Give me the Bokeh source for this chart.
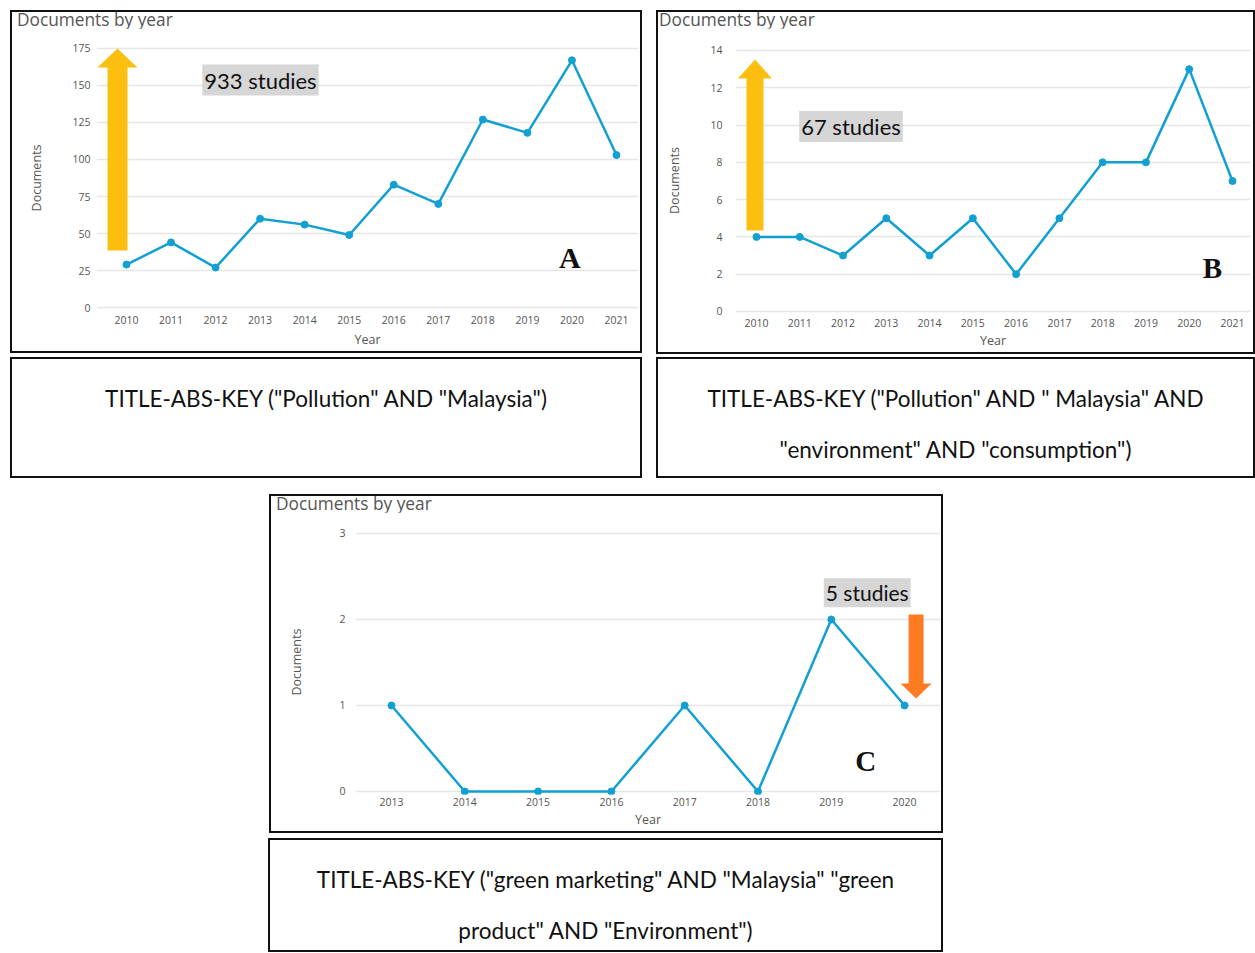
from bokeh.plotting import figure
from bokeh.models import FixedTicker, Label, Range1d, Div, Spacer
from bokeh.layouts import column, row
from bokeh.embed import file_html
from bokeh.resources import INLINE

# ---------------- data ----------------
years_a = [2010, 2011, 2012, 2013, 2014, 2015, 2016, 2017, 2018, 2019, 2020, 2021]
docs_a = [29, 44, 27, 60, 56, 49, 83, 70, 127, 118, 167, 103]
yticks_a = [0, 25, 50, 75, 100, 125, 150, 175]

years_b = [2010, 2011, 2012, 2013, 2014, 2015, 2016, 2017, 2018, 2019, 2020, 2021]
docs_b = [4, 4, 3, 5, 3, 5, 2, 5, 8, 8, 13, 7]
yticks_b = [0, 2, 4, 6, 8, 10, 12, 14]

years_c = [2013, 2014, 2015, 2016, 2017, 2018, 2019, 2020]
docs_c = [1, 0, 0, 0, 1, 0, 2, 1]
yticks_c = [0, 1, 2, 3]

chart_title = "Documents by year"
studies_a = "933 studies"
studies_b = "67 studies"
studies_c = "5 studies"

caption_a = ['TITLE-ABS-KEY ("Pollution" AND "Malaysia")']
caption_b = ['TITLE-ABS-KEY ("Pollution" AND " Malaysia" AND', '"environment" AND "consumption")']
caption_c = ['TITLE-ABS-KEY ("green marketing" AND "Malaysia" "green', 'product" AND "Environment")']

BLUE = "#12a0d3"
FONT = "Open Sans"
CAP_FONT = "Lato"
BORDER = "2px solid #111111"


def arrow_poly(xc, hs, hh, y0, yn, yt):
    xs = [xc - hs, xc + hs, xc + hs, xc + hh, xc, xc - hh, xc - hs]
    ys = [y0, y0, yn, yn, yt, yn, yn]
    return xs, ys


def make_chart(years, docs, yticks, xr, yr, w, h, borders,
               ylab_standoff, ylabel_standoff, xlab_standoff, xlabel_standoff):
    p = figure(width=w, height=h, x_range=Range1d(*xr), y_range=Range1d(*yr),
               output_backend="svg", toolbar_location=None,
               min_border_left=borders[0], min_border_right=borders[1],
               min_border_top=borders[2], min_border_bottom=borders[3])
    p.outline_line_color = None
    for ax in (p.xaxis[0], p.yaxis[0]):
        ax.axis_line_color = None
        ax.major_tick_line_color = None
        ax.minor_tick_line_color = None
        ax.major_tick_in = 0
        ax.major_tick_out = 0
        ax.major_label_text_font = FONT
        ax.major_label_text_font_size = "10.5px"
        ax.major_label_text_color = "#555555"
        ax.axis_label_text_font = FONT
        ax.axis_label_text_font_size = "12.5px"
        ax.axis_label_text_font_style = "normal"
        ax.axis_label_text_color = "#555555"
    p.xaxis.ticker = FixedTicker(ticks=years)
    p.yaxis.ticker = FixedTicker(ticks=yticks)
    p.xaxis.axis_label = "Year"
    p.yaxis.axis_label = "Documents"
    p.xaxis.major_label_standoff = xlab_standoff
    p.xaxis.axis_label_standoff = xlabel_standoff
    p.yaxis.major_label_standoff = ylab_standoff
    p.yaxis.axis_label_standoff = ylabel_standoff
    p.xgrid.grid_line_color = None
    p.ygrid.grid_line_color = "#e6e6e6"
    p.ygrid.grid_line_width = 1.5
    p.line(years, docs, line_color=BLUE, line_width=2.5)
    p.scatter(years, docs, size=7, color=BLUE)
    return p


def framed(p, w, pad_left):
    title = Div(text=chart_title, width=w, height=16, margin=0,
                styles={"font-family": FONT, "font-size": "17.3px", "color": "#555555",
                        "line-height": "16px", "padding-left": "%dpx" % pad_left,
                        "white-space": "nowrap"})
    return column(title, p, spacing=0, styles={"border": BORDER})


def add_label(p, x, y, text, size, font, style="normal", bg=None):
    lab = Label(x=x, y=y, text=text, text_align="center", text_baseline="middle",
                text_font=font, text_font_size=size, text_font_style=style,
                text_color="#111111")
    if bg:
        lab.background_fill_color = bg
        lab.padding = 2
    p.add_layout(lab)


# ---------------- panel A ----------------
pa = make_chart(years_a, docs_a, yticks_a, (2009.327, 2021.494), (-2.7, 177.7),
                628, 323, (84, 2, 16, 40), 6, 24, 4, 4)
xs, ys = arrow_poly(2009.798, 0.2245, 0.449, 38.5, 162.2, 175)
pa.patch(xs, ys, fill_color="#fdbf0f", line_color=None)
add_label(pa, 2013.008, 153.7, studies_a, "22px", CAP_FONT, bg="#d6d6d6")
add_label(pa, 2019.95, 34.0, "A", "30px", "Liberation Serif", "bold")

# ---------------- panel B ----------------
pb = make_chart(years_b, docs_b, yticks_b, (2009.515, 2021.416), (-0.215, 14.268),
                595, 324, (77, 3, 17, 37), 13, 24, 3, 2)
xs, ys = arrow_poly(2009.965, 0.196, 0.393, 4.35, 12.5, 13.52)
pb.patch(xs, ys, fill_color="#fdbf0f", line_color=None)
add_label(pb, 2012.184, 9.925, studies_b, "22px", CAP_FONT, bg="#d6d6d6")
add_label(pb, 2020.538, 2.31, "B", "29px", "Liberation Serif", "bold")

# ---------------- panel C ----------------
pc = make_chart(years_c, docs_c, yticks_c, (2012.509, 2020.49), (-0.035, 3.0465),
                670, 319, (84, 1, 17, 37), 10, 31, 3, 2)
xs, ys = arrow_poly(2020.157, 0.102, 0.2115, 2.058, 1.256, 1.081)
pc.patch(xs, ys, fill_color="#ff7b22", line_color=None)
add_label(pc, 2019.49, 2.31, studies_c, "21px", CAP_FONT, bg="#d6d6d6")
add_label(pc, 2019.47, 0.355, "C", "29px", "Liberation Serif", "bold")

box_a = framed(pa, 628, 5)
box_b = framed(pb, 595, 1)
box_c = framed(pc, 670, 5)


# ---------------- captions ----------------
def caption(lines, w, h):
    html = "<div style='padding-top:14px'>" + "<br>".join(lines) + "</div>"
    return Div(text=html, width=w, height=h, margin=0,
               styles={"border": BORDER, "font-family": CAP_FONT,
                       "font-size": "22.5px", "text-align": "center",
                       "line-height": "51px", "color": "#111111",
                       "overflow": "hidden"})


cap_a = caption(caption_a, 632, 121)
cap_b = caption(caption_b, 599, 121)
cap_c = caption(caption_c, 675, 114)

layout = column(
    Spacer(height=10),
    row(Spacer(width=10), box_a, Spacer(width=14), box_b),
    Spacer(height=3),
    row(Spacer(width=10), cap_a, Spacer(width=14), cap_b),
    Spacer(height=16),
    row(Spacer(width=269), box_c),
    Spacer(height=5),
    row(Spacer(width=268), cap_c),
)

open("out.html", "w").write(file_html(layout, INLINE))
